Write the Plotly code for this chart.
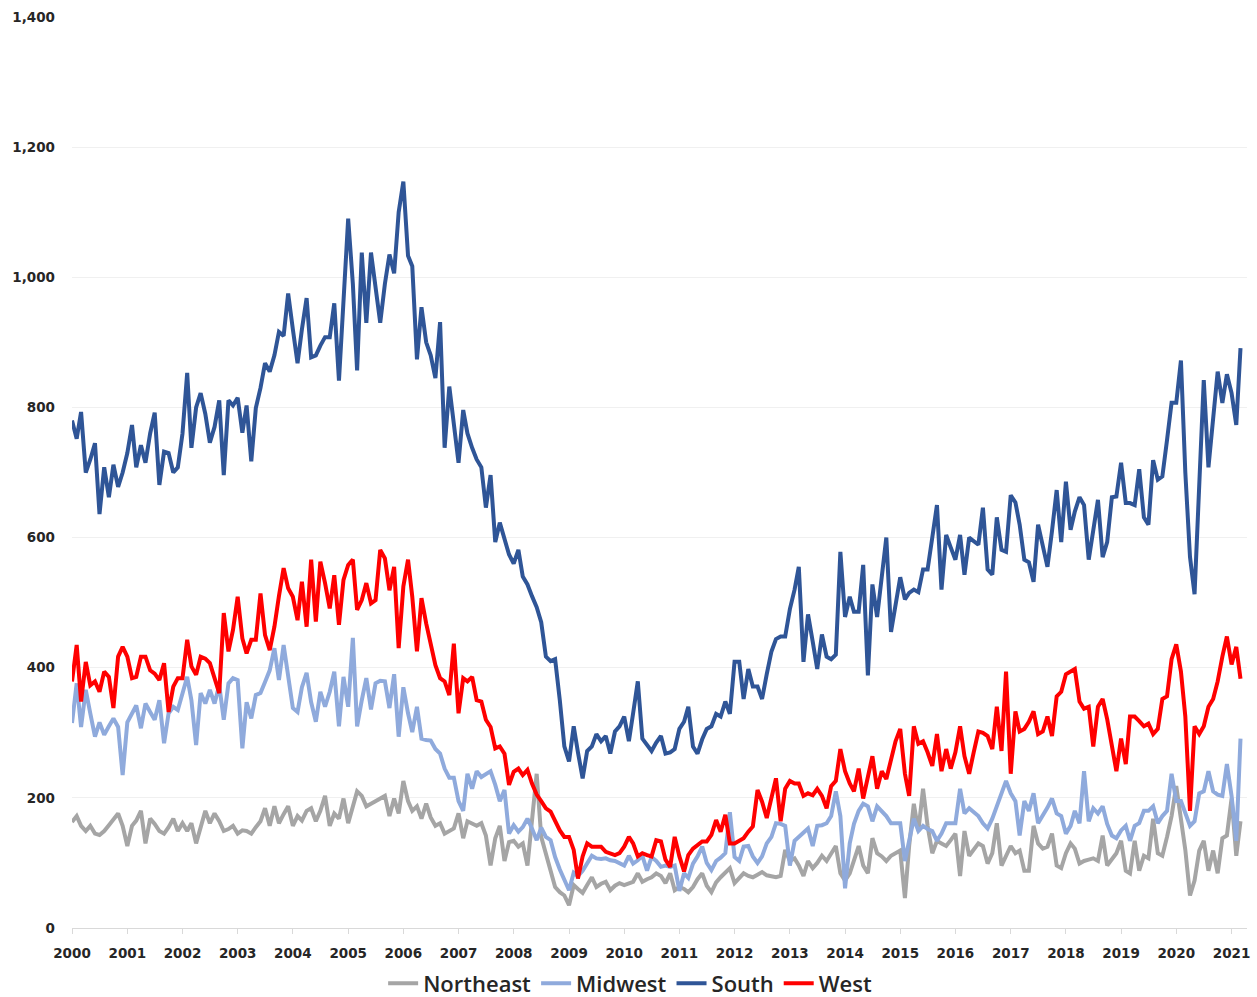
import pandas as pd
import plotly.graph_objects as go

months = pd.date_range("2000-01-01", periods=255, freq="MS")

northeast = [
    163, 172, 157, 149, 157, 145, 143, 149, 158, 168, 176, 157,
    126, 157, 165, 180, 130, 168, 160, 149, 145, 155, 168, 149,
    161, 149, 161, 130, 155, 180, 161, 176, 164, 149, 152, 157,
    145, 150, 149, 145, 155, 164, 184, 157, 187, 161, 175, 187,
    157, 172, 165, 180, 184, 164, 180, 203, 157, 176, 168, 199,
    161, 185, 210, 203, 187, 191, 195, 199, 203, 172, 199, 176,
    226, 195, 180, 187, 168, 191, 170, 157, 161, 145, 149, 153,
    176, 138, 164, 160, 157, 161, 142, 96, 138, 157, 103, 132,
    134, 125, 130, 96, 169, 237, 140, 115, 90, 63, 55, 50,
    35, 66, 60, 54, 66, 78, 63, 68, 71, 58, 65, 69,
    66, 68, 71, 84, 71, 75, 78, 84, 80, 69, 84, 58,
    63, 60, 55, 63, 75, 84, 65, 55, 70, 78, 85, 92,
    69, 77, 84, 80, 78, 82, 86, 81, 80, 78, 80, 120,
    103, 107, 96, 80, 103, 92, 100, 111, 103, 115, 126, 84,
    73, 84, 103, 126, 96, 84, 138, 115, 110, 103, 111, 115,
    119, 46, 126, 191, 149, 214, 157, 115, 134, 130, 126, 135,
    145, 80, 149, 111, 120, 130, 126, 99, 115, 161, 96, 110,
    126, 115, 119, 88, 88, 157, 130, 122, 125, 145, 96, 92,
    115, 130, 122, 99, 103, 105, 107, 103, 142, 96, 107, 115,
    134, 88, 84, 134, 88, 111, 107, 168, 115, 111, 140, 172,
    218, 168, 120, 50, 73, 119, 134, 88, 119, 84, 138, 142,
    199, 111, 164,
]

midwest = [
    315, 376, 309, 366, 330, 294, 316, 297, 310, 322, 309, 235,
    316, 330, 342, 307, 345, 332, 320, 350, 284, 330, 340, 335,
    360, 386, 350, 281, 361, 345, 366, 345, 373, 320, 376, 384,
    381, 276, 347, 322, 358, 361, 378, 396, 430, 381, 435, 389,
    338, 332, 370, 392, 347, 317, 363, 340, 363, 394, 310, 386,
    340, 446, 310, 350, 384, 336, 376, 380, 379, 338, 390, 294,
    370, 330, 301, 340, 291, 289, 288, 275, 268, 245, 231, 231,
    195, 180, 237, 214, 241, 232, 237, 241, 220, 195, 212, 145,
    158, 148, 155, 168, 153, 135, 154, 140, 135, 109, 90, 74,
    58, 85, 80, 88, 100, 111, 107, 106, 107, 104, 103, 100,
    96, 111, 99, 104, 111, 88, 109, 103, 94, 96, 94, 96,
    57, 84, 77, 99, 110, 125, 100, 89, 103, 108, 115, 178,
    109, 103, 125, 126, 110, 100, 110, 130, 140, 161, 160, 157,
    96, 134, 140, 145, 153, 126, 157, 158, 161, 172, 210, 172,
    61, 130, 160, 180, 191, 187, 164, 187, 180, 172, 161, 161,
    161, 103, 134, 168, 149, 157, 152, 149, 134, 145, 161, 161,
    161, 214, 176, 184, 178, 172, 161, 153, 168, 187, 203, 226,
    207, 195, 142, 195, 180, 207, 161, 172, 185, 199, 176, 172,
    145, 157, 180, 161, 241, 164, 184, 176, 187, 160, 142, 138,
    150, 157, 134, 157, 161, 180, 180, 187, 161, 172, 180, 237,
    195, 195, 175, 157, 164, 207, 210, 241, 210, 205, 203, 252,
    203, 134, 291,
]

south = [
    780, 752, 793, 700, 720, 745, 636, 708, 662, 712, 678, 700,
    730, 773, 708, 742, 715, 760, 792, 681, 732, 730, 700, 708,
    760, 853, 738, 800, 822, 790, 746, 770, 811, 696, 811, 803,
    815, 761, 803, 717, 799, 830, 868, 855, 880, 916, 910, 975,
    920, 868, 920, 968, 877, 880, 895, 908, 908, 960, 841, 960,
    1090, 990, 857, 1038, 930, 1038, 980, 930, 990, 1035, 1006, 1100,
    1147, 1033, 1017, 874, 954, 900, 880, 845, 931, 738, 832, 780,
    715, 796, 760, 738, 720, 708, 646, 696, 593, 623, 600, 574,
    560, 581, 540, 528, 510, 493, 470, 417, 410, 413, 350, 279,
    256, 310, 270, 230, 272, 279, 298, 287, 295, 268, 302, 310,
    325, 287, 330, 379, 291, 280, 272, 285, 295, 268, 270, 275,
    306, 317, 340, 279, 268, 290, 306, 310, 329, 325, 348, 329,
    409, 409, 352, 398, 371, 371, 352, 390, 425, 444, 448, 448,
    490, 520, 555, 409, 482, 440, 398, 451, 417, 413, 420, 578,
    478, 509, 486, 486, 558, 388, 528, 478, 540, 600, 455, 500,
    539, 505, 515, 520, 516, 551, 551, 600, 650, 520, 604, 585,
    566, 604, 543, 600, 595, 589, 646, 551, 543, 631, 581, 578,
    665, 654, 620, 566, 562, 532, 620, 590, 555, 610, 673, 593,
    686, 612, 640, 662, 650, 566, 610, 658, 570, 593, 662, 663,
    715, 653, 653, 650, 705, 631, 620, 719, 689, 694, 750, 807,
    807, 872, 700, 570, 513, 680, 842, 708, 780, 855, 807, 851,
    822, 773, 891,
]

west = [
    379, 435, 348, 409, 373, 379, 363, 394, 386, 338, 417, 432,
    417, 384, 386, 417, 417, 396, 391, 381, 407, 332, 371, 384,
    384, 443, 402, 389, 417, 414, 407, 385, 361, 484, 425, 458,
    509, 445, 422, 443, 443, 514, 450, 427, 463, 510, 553, 522,
    509, 473, 532, 463, 566, 471, 563, 530, 491, 542, 466, 535,
    558, 566, 489, 504, 530, 499, 504, 581, 568, 519, 555, 430,
    525, 566, 509, 425, 507, 468, 437, 404, 384, 379, 358, 437,
    330, 384, 379, 386, 350, 348, 320, 309, 276, 279, 268, 220,
    240, 245, 235, 243, 222, 205, 195, 184, 179, 165, 150, 140,
    140, 120, 76, 110, 130, 125, 125, 125, 117, 115, 112, 115,
    125, 140, 130, 110, 115, 112, 110, 135, 133, 105, 94, 140,
    110, 87, 112, 122, 128, 133, 133, 143, 166, 148, 174, 130,
    130, 135, 138, 148, 156, 212, 194, 169, 200, 230, 164, 214,
    226, 222, 222, 203, 207, 204, 214, 203, 184, 218, 226, 275,
    241, 222, 210, 245, 199, 229, 264, 214, 241, 229, 260, 287,
    306, 237, 203, 310, 283, 287, 270, 249, 298, 241, 275, 245,
    270, 310, 264, 237, 270, 302, 300, 295, 275, 340, 272, 394,
    237, 333, 302, 306, 317, 333, 298, 302, 325, 295, 356, 363,
    390, 395, 398, 348, 337, 340, 279, 340, 352, 321, 279, 241,
    291, 252, 325, 325, 318, 310, 314, 298, 306, 352, 356, 413,
    436, 394, 325, 180, 310, 298, 310, 340, 352, 379, 417, 448,
    405, 432, 383,
]

series_names = ["Northeast", "Midwest", "South", "West"]
series_values = [northeast, midwest, south, west]
series_colors = ["#A5A5A5", "#8FAADC", "#2F5597", "#FF0000"]

year_ticks = pd.date_range("2000-01-01", "2021-01-01", freq="12MS")
y_ticks = [0, 200, 400, 600, 800, 1000, 1200, 1400]

tick_font = dict(family="DejaVu Sans", size=13.5, color="#262626", weight="bold")

fig = go.Figure()
for name, vals, col in zip(series_names, series_values, series_colors):
    fig.add_trace(go.Scatter(
        x=months, y=vals, mode="lines", name=name,
        line=dict(color=col, width=4),
    ))

fig.update_layout(
    width=1257, height=997,
    margin=dict(l=72, r=10, t=17, b=69, autoexpand=False),
    paper_bgcolor="white", plot_bgcolor="white",
    font=dict(family="Open Sans", color="#262626"),
    showlegend=True,
    legend=dict(
        orientation="h", x=0.475, xanchor="center", y=-0.061, yanchor="middle",
        font=dict(family="Open Sans", size=22, color="#262626", weight=600),
        itemwidth=30, tracegroupgap=0,
    ),
    xaxis=dict(
        range=[pd.Timestamp("2000-01-01"), pd.Timestamp("2021-04-13")],
        tickvals=list(year_ticks),
        ticktext=[str(d.year) for d in year_ticks],
        showgrid=False, zeroline=False, automargin=False,
        showline=True, linecolor="#D9D9D9", linewidth=1,
        ticks="outside", ticklen=5, tickcolor="#D9D9D9",
        tickfont=tick_font,
        ticklabelstandoff=8,
    ),
    yaxis=dict(
        range=[0, 1400],
        tickvals=y_ticks,
        ticktext=[f"{v:,}" for v in y_ticks],
        showgrid=True, gridcolor="#F0F0F0", gridwidth=1,
        zeroline=False, showline=False, ticks="", automargin=False,
        tickfont=tick_font,
        ticklabelstandoff=16,
    ),
)

fig.write_html(
    "out.html",
    config={"displayModeBar": False},
    post_script="document.body.style.margin='0';document.body.style.overflow='hidden';",
)
